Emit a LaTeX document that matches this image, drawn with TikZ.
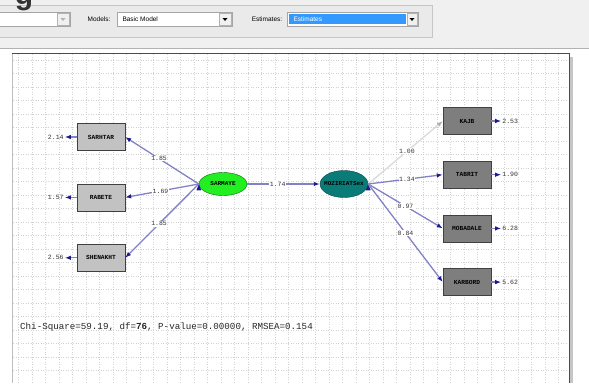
\documentclass[tikz,border=0pt]{standalone}
\usepackage{fontspec}
\setmainfont{Liberation Serif}
\setsansfont{Liberation Sans}
\setmonofont{Liberation Mono}
\usepackage{tikz}
\usetikzlibrary{arrows.meta, shapes.geometric, positioning}

\definecolor{winbg}{HTML}{F0F0F0}
\definecolor{panelbg}{HTML}{EAEAEA}
\definecolor{selblue}{HTML}{3399FF}
\definecolor{gridgray}{HTML}{D2D2D2}
\definecolor{pathblue}{HTML}{8282C8}
\definecolor{tipblue}{HTML}{1C1C8C}
\definecolor{pathpale}{HTML}{DADADA}
\definecolor{latgreen}{HTML}{22EE22}
\definecolor{latteal}{HTML}{0B7B78}
\definecolor{boxlight}{HTML}{C2C2C2}
\definecolor{boxdark}{HTML}{7E7E7E}

\begin{document}
\begin{tikzpicture}[x=1pt, y=-1pt,
    obsl/.style={rectangle, draw=black!75, fill=boxlight, minimum width=48pt, minimum height=27pt, inner sep=0pt, font=\ttfamily\bfseries\fontsize{6.2}{6.5}\selectfont},
    obsr/.style={obsl, fill=boxdark},
    latent/.style={ellipse, minimum width=48pt, minimum height=23pt, inner sep=0pt, font=\ttfamily\bfseries\fontsize{6}{6.5}\selectfont},
    coef/.style={fill=white, inner sep=0.6pt, text=black!80, font=\ttfamily\fontsize{6.5}{6.5}\selectfont},
    errlbl/.style={inner sep=1pt, text=black!80, font=\ttfamily\fontsize{6.5}{6.5}\selectfont},
    pth/.style={draw=pathblue, line width=1.3pt, -{Latex[length=6pt, width=4.5pt, color=tipblue]}},
    pthpale/.style={draw=pathpale, line width=1.3pt, -{Latex[length=6pt, width=4.5pt, color=pathpale!80!black]}},
    gridline/.style={draw=gridgray, line width=0.35pt, dash pattern=on 0.8pt off 1.7pt},
    combo/.style={draw=gray!70, fill=white},
    combobtn/.style={draw=gray!60, fill=winbg},
    toolfont/.style={font=\sffamily\fontsize{6.5}{6.5}\selectfont}]
    \clip (0,0) rectangle (589,383);
    % window
    \fill[white] (0,0) rectangle (589,383);
    \fill[winbg] (0,0) rectangle (589,48);
    \filldraw[fill=panelbg, draw=gray!45] (-1,5) rectangle (432,37);
    \node[font=\sffamily\bfseries\fontsize{30}{30}\selectfont, anchor=base, text=black!80] (gfrag) at (24,4) {g};
    \draw[gray!60] (0,48) -- (589,48);
    \draw[combo] (-2,12) rectangle (70,26);
    \draw[combobtn] (57,13) rectangle (69,25);
    \fill[gray!60] (60.5,18) -- ++(5,0) -- ++(-2.5,3) -- cycle;
    \node[toolfont] (models) at (99,19) {Models:};
    \draw[combo] (117,12) rectangle (232,26);
    \node[toolfont, anchor=west] (basic) at (119,19) {Basic Model};
    \draw[combobtn] (219,13) rectangle (231,25);
    \fill (222.5,18) -- ++(5,0) -- ++(-2.5,3) -- cycle;
    \node[toolfont] (estlbl) at (267,19) {Estimates:};
    \draw[combo] (287,12) rectangle (418,26);
    \fill[selblue] (289,14) rectangle (406,24);
    \node[toolfont, text=white, anchor=west] (estsel) at (290,19) {Estimates};
    \draw[combobtn] (407,13) rectangle (417,25);
    \fill (409.5,18) -- ++(5,0) -- ++(-2.5,3) -- cycle;
    % canvas
    \fill[gray!45] (569,57) rectangle (573,383);
    \fill[white] (12,53) rectangle (569,383);
    \foreach \i in {0,...,40} \draw[gridline] ({18.5+13.5*\i},54) -- ({18.5+13.5*\i},383);
    \foreach \j in {0,...,23} \draw[gridline] (13,{60+13.5*\j}) -- (568,{60+13.5*\j});
    \draw[black!25] (12,383) -- (12,53);
    \draw[black!70] (12,53) -- (569,53) -- (569,383);

    \node[obsl] (sarhtar) at (101,137) {SARHTAR};
    \node[obsl] (rabete) [below = 33pt of sarhtar] {RABETE};
    \node[obsl] (shenakht) [below = 33pt of rabete] {SHENAKHT};
    \node[latent, draw=green!45!black, fill=latgreen] (sarmaye) at (223,184) {SARMAYE};
    \node[latent, draw=latteal!60!black, fill=latteal, minimum height=27pt] (moziriat) at (344,184) {};
    \node[font=\ttfamily\bfseries\fontsize{6}{6.5}\selectfont, inner sep=0pt] (moztxt) at (moziriat) {MOZIRIATSex};
    \node[obsr] (kajb) at (467,121) {KAJB};
    \node[obsr] (tabrit) [below = 26.3pt of kajb] {TABRIT};
    \node[obsr] (mobadale) [below = 26.3pt of tabrit] {MOBADALE};
    \node[obsr] (karbord) [below = 26.3pt of mobadale] {KARBORD};

    \node[errlbl] (e1) [left = 12pt of sarhtar] {2.14};
    \node[errlbl] (e2) [left = 12pt of rabete] {1.57};
    \node[errlbl] (e3) [left = 12pt of shenakht] {2.56};
    \node[errlbl] (e4) [right = 10pt of kajb] {2.53};
    \node[errlbl] (e5) [right = 10pt of tabrit] {1.90};
    \node[errlbl] (e6) [right = 10pt of mobadale] {6.28};
    \node[errlbl] (e7) [right = 10pt of karbord] {5.62};

    \path[pth] (sarmaye.west) edge node[coef, pos=0.54] {1.85} (sarhtar.east);
    \path[pth] (sarmaye.west) edge node[coef, pos=0.52] {1.69} (rabete.east);
    \path[pth] (sarmaye.west) edge node[coef, pos=0.54] {1.85} (shenakht.east);
    \path[pth] (sarmaye) edge node[coef, pos=0.42] {1.74} (moziriat);
    \path[pthpale] (moziriat.east) edge node[coef, pos=0.52] {1.00} (kajb.west);
    \path[pth] (moziriat.east) edge node[coef, pos=0.52] {1.34} (tabrit.west);
    \path[pth] (moziriat.east) edge node[coef, pos=0.5] {0.97} (mobadale.west);
    \path[pth] (moziriat.east) edge node[coef, pos=0.5] {0.84} (karbord.west);
    \foreach \b/\e in {sarhtar/e1, rabete/e2, shenakht/e3, kajb/e4, tabrit/e5, mobadale/e6, karbord/e7}
        \path[pth] (\b) edge (\e);

    \node[anchor=west, inner sep=0pt, text=black!85, font=\ttfamily\fontsize{9.2}{9.2}\selectfont] (fitline) at (20,327) {Chi-Square=59.19, df=\textbf{76}, P-value=0.00000, RMSEA=0.154};
\end{tikzpicture}
\end{document}
